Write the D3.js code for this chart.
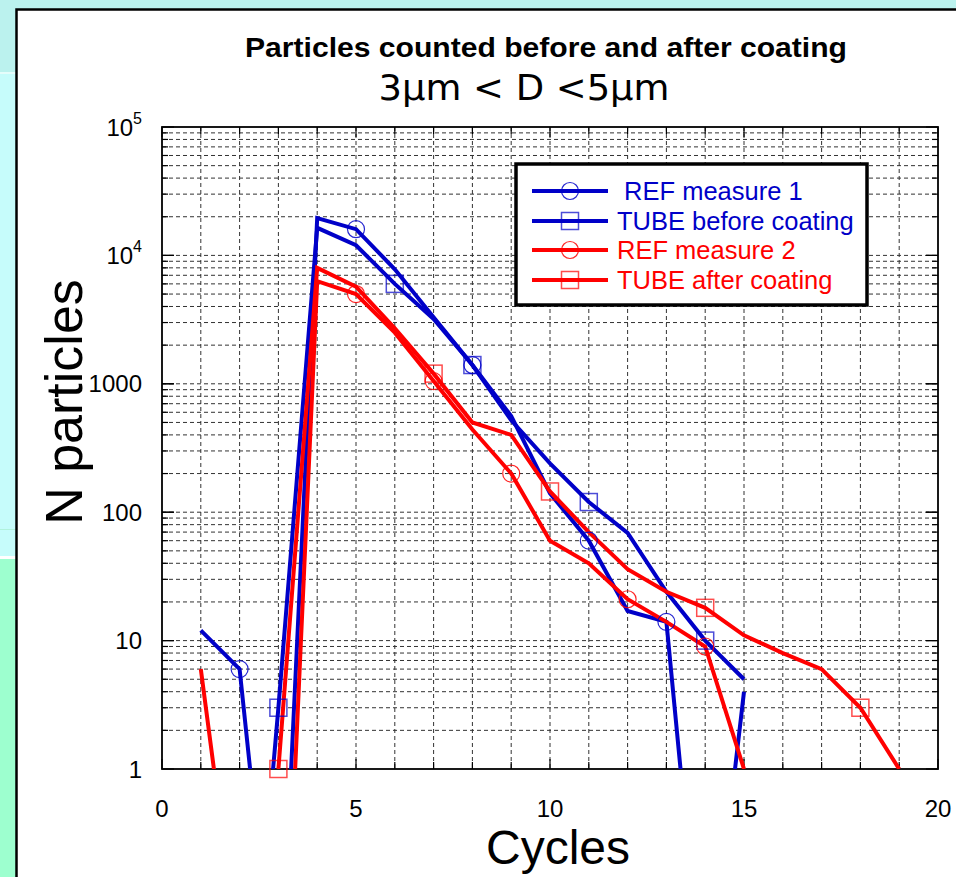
<!DOCTYPE html>
<html>
<head>
<meta charset="utf-8">
<script src="https://cdn.jsdelivr.net/npm/d3@7/dist/d3.min.js"></script>
<style>
  html, body { margin: 0; padding: 0; background: #ffffff; }
  svg { display: block; }
</style>
</head>
<body>
<svg id="chart" width="956" height="877"></svg>
<script>
// ---------------- DATA ----------------
const cycles = [1, 2, 3, 4, 5, 6, 7, 8, 9, 10, 11, 12, 13, 14, 15, 16, 17, 18, 19];
// very small values stand for zero counts (drawn off the bottom of the log axis)
const ref1       = [12, 6, 0.008, 19500, 16000, 7800, 3300, 1400, 560, 140, 60, 17, 14, 0.01, 4];
const tubeBefore = [0.001, 0.001, 3, 16400, 12000, 6000, 3200, 1400, 520, 240, 120, 69, 24, 10, 5];
const ref2       = [6, 0.03, 0.0013, 6300, 5000, 2500, 1050, 440, 200, 60, 40, 21, 14, 9, 1];
const tubeAfter  = [0.001, 0.001, 1, 8000, 5700, 2700, 1200, 500, 400, 145, 70, 36, 24, 18, 11, 8, 6, 3, 1];

const ref1Markers       = [2, 5, 8, 11, 13];
const tubeBeforeMarkers = [3, 6, 8, 11, 14];
const ref2Markers       = [5, 7, 9, 12, 14];
const tubeAfterMarkers  = [3, 7, 10, 14, 18];

const seriesNames = [" REF measure 1", "TUBE before coating", "REF measure 2", "TUBE after coating"];
const xTicks = [0, 5, 10, 15, 20];
const yDecades = [1, 10, 100, 1000, 1e4, 1e5];
const yTickLabels = ["1", "10", "100", "1000", "10^4", "10^5"];

const titleText = "Particles counted before and after coating";
const subtitleText = "3\u00b5m < D <5\u00b5m";
const xLabel = "Cycles";
const yLabel = "N particles";

// ---------------- LAYOUT ----------------
const svg = d3.select("#chart");
const W = 956, H = 877;
const plot = { left: 162, right: 938, top: 127, bottom: 769 };

const x = d3.scaleLinear().domain([0, 20]).range([plot.left, plot.right]);
const y = d3.scaleLog().domain([1, 1e5]).range([plot.bottom, plot.top]);

const BLUE = "#0000c8", RED = "#ff0000";

// ---------------- BACKGROUND ----------------
svg.append("rect").attr("x", 0).attr("y", 0).attr("width", W).attr("height", H).attr("fill", "#bbf2ee");
svg.append("rect").attr("x", 0).attr("y", 74).attr("width", 16).attr("height", 483).attr("fill", "#c6fcfb");
svg.append("rect").attr("x", 0).attr("y", 72).attr("width", 16).attr("height", 2).attr("fill", "#e4fdfb");
svg.append("rect").attr("x", 0).attr("y", 529).attr("width", 16).attr("height", 1).attr("fill", "#b0f2dc");
svg.append("rect").attr("x", 0).attr("y", 556).attr("width", 16).attr("height", 3).attr("fill", "#ffffff");
svg.append("rect").attr("x", 0).attr("y", 559).attr("width", 16).attr("height", H - 559).attr("fill", "#9dffcf");

// white panel
svg.append("rect").attr("x", 16.5).attr("y", 9.5).attr("width", W + 10).attr("height", H + 10)
  .attr("fill", "#ffffff").attr("stroke", "#000").attr("stroke-width", 2.5);

// ---------------- GRID ----------------
const grid = svg.append("g").attr("stroke", "#000").attr("stroke-width", 1)
  .attr("stroke-dasharray", "4,3").attr("opacity", 0.8);
d3.range(1, 20).forEach(c => {
  grid.append("line").attr("x1", x(c)).attr("x2", x(c)).attr("y1", plot.top).attr("y2", plot.bottom);
});
const minorVals = [];
for (let d = 0; d < 5; d++) {
  for (let m = 1; m <= 9; m++) {
    const v = m * Math.pow(10, d);
    if (v > 1 && v < 1e5) minorVals.push(v);
  }
}
minorVals.forEach(v => {
  grid.append("line").attr("x1", plot.left).attr("x2", plot.right).attr("y1", y(v)).attr("y2", y(v));
});

// ---------------- AXES / TICKS ----------------
const axes = svg.append("g").attr("stroke", "#000");
minorVals.concat(yDecades).forEach(v => {
  const major = yDecades.includes(v);
  const len = major ? 12 : 6;
  axes.append("line").attr("x1", plot.left).attr("x2", plot.left + len).attr("y1", y(v)).attr("y2", y(v)).attr("stroke-width", 1.2);
  axes.append("line").attr("x1", plot.right).attr("x2", plot.right - len).attr("y1", y(v)).attr("y2", y(v)).attr("stroke-width", 1.2);
});
d3.range(0, 21).forEach(c => {
  const len = (c % 5 === 0) ? 10 : 7;
  axes.append("line").attr("x1", x(c)).attr("x2", x(c)).attr("y1", plot.bottom).attr("y2", plot.bottom - len).attr("stroke-width", 1.2);
  axes.append("line").attr("x1", x(c)).attr("x2", x(c)).attr("y1", plot.top).attr("y2", plot.top + len).attr("stroke-width", 1.2);
});
svg.append("rect").attr("x", plot.left).attr("y", plot.top)
  .attr("width", plot.right - plot.left).attr("height", plot.bottom - plot.top)
  .attr("fill", "none").attr("stroke", "#000").attr("stroke-width", 1.8);

// tick labels
const fontMain = "'Liberation Sans', Arial, Helvetica, sans-serif";
xTicks.forEach(t => {
  svg.append("text").attr("x", x(t)).attr("y", 817).attr("text-anchor", "middle")
    .attr("font-family", fontMain).attr("font-size", 24).attr("fill", "#000").text(t);
});
yDecades.forEach((v, i) => {
  const lab = yTickLabels[i];
  const t = svg.append("text").attr("x", 142).attr("y", y(v) + 8.5).attr("text-anchor", "end")
    .attr("font-family", fontMain).attr("font-size", 24).attr("fill", "#000");
  if (lab.includes("^")) {
    const [base, exp] = lab.split("^");
    t.append("tspan").text(base);
    t.append("tspan").attr("font-size", 16).attr("dy", -12).text(exp);
  } else {
    t.text(lab);
  }
});

// axis titles
svg.append("text").attr("x", 558).attr("y", 864).attr("text-anchor", "middle")
  .attr("font-family", fontMain).attr("font-size", 48).attr("fill", "#000").text(xLabel);
svg.append("text").attr("transform", "translate(82,402) rotate(-90)").attr("text-anchor", "middle")
  .attr("font-family", fontMain).attr("font-size", 52).attr("fill", "#000").text(yLabel);

// titles
svg.append("text").attr("x", 546).attr("y", 57).attr("text-anchor", "middle")
  .attr("font-family", fontMain).attr("font-weight", "bold").attr("font-size", 28)
  .attr("textLength", 602).attr("lengthAdjust", "spacingAndGlyphs")
  .attr("fill", "#000").text(titleText);
svg.append("text").attr("x", 524).attr("y", 100).attr("text-anchor", "middle")
  .attr("font-family", "'DejaVu Sans', Verdana, sans-serif").attr("font-size", 35)
  .attr("textLength", 291).attr("lengthAdjust", "spacingAndGlyphs")
  .attr("fill", "#000").text(subtitleText);

// ---------------- SERIES ----------------
svg.append("clipPath").attr("id", "plotclip").append("rect")
  .attr("x", plot.left).attr("y", plot.top)
  .attr("width", plot.right - plot.left).attr("height", plot.bottom - plot.top);

const series = [
  { name: seriesNames[0], vals: ref1, markers: ref1Markers, color: BLUE, shape: "circle" },
  { name: seriesNames[1], vals: tubeBefore, markers: tubeBeforeMarkers, color: BLUE, shape: "square" },
  { name: seriesNames[2], vals: ref2, markers: ref2Markers, color: RED, shape: "circle" },
  { name: seriesNames[3], vals: tubeAfter, markers: tubeAfterMarkers, color: RED, shape: "square" }
];

const line = d3.line().x(d => x(d[0])).y(d => y(d[1]));
const linesG = svg.append("g").attr("clip-path", "url(#plotclip)");
series.forEach(s => {
  const pts = s.vals.map((v, i) => [cycles[i], v]);
  linesG.append("path").datum(pts).attr("d", line).attr("fill", "none")
    .attr("stroke", s.color).attr("stroke-width", 4).attr("stroke-linejoin", "miter");
});

function drawMarker(g, cx, cy, s) {
  if (s.shape === "circle") {
    g.append("circle").attr("cx", cx).attr("cy", cy).attr("r", 8.5)
      .attr("fill", "none").attr("stroke", s.color).attr("stroke-width", 1.2).attr("opacity", 0.85);
  } else {
    g.append("rect").attr("x", cx - 8.5).attr("y", cy - 8.5).attr("width", 17).attr("height", 17)
      .attr("fill", "none").attr("stroke", s.color).attr("stroke-width", 1.5).attr("opacity", 0.7);
  }
}
const markG = svg.append("g");
series.forEach(s => {
  s.markers.forEach(c => {
    const i = cycles.indexOf(c);
    drawMarker(markG, x(c), y(s.vals[i]), s);
  });
});

// ---------------- LEGEND ----------------
const leg = svg.append("g");
leg.append("rect").attr("x", 516).attr("y", 164).attr("width", 351).attr("height", 141)
  .attr("fill", "#fff").attr("stroke", "#000").attr("stroke-width", 3.5);
const rowY = [191, 221, 250, 280];
series.forEach((s, i) => {
  const ry = rowY[i];
  leg.append("line").attr("x1", 532).attr("x2", 608).attr("y1", ry).attr("y2", ry)
    .attr("stroke", s.color).attr("stroke-width", 4);
  drawMarker(leg, 570, ry, s);
  leg.append("text").attr("x", 617).attr("y", ry + 9).attr("font-family", fontMain)
    .attr("font-size", 25.5).attr("fill", s.color).attr("xml:space", "preserve")
    .style("white-space", "pre").text(s.name);
});
</script>
</body>
</html>
